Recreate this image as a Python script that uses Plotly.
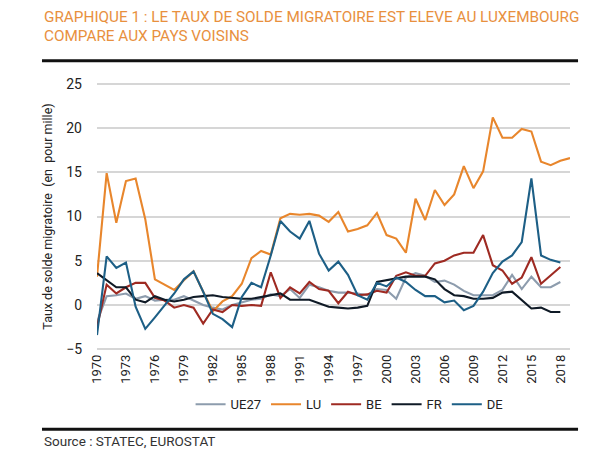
import plotly.graph_objects as go

# Taux de solde migratoire (pour mille)
years = list(range(1970, 2020))

ue27 = [-1.9, 1.0, 1.1, 1.3, 0.7, 1.0, 0.5, 0.6, 0.6, 1.0,
        0.5, 0.0, -0.3, -0.5, 0.0, 0.3, 0.6, 0.7, 1.2, 1.0,
        1.8, 0.8, 2.3, 2.0, 1.6, 1.4, 1.4, 1.3, 1.1, 1.8,
        1.7, 0.7, 3.1, 3.6, 3.3, 2.6, 2.75, 2.3, 1.6, 1.1,
        1.1, 1.1, 1.7, 3.4, 1.8, 3.2, 2.0, 2.0, 2.6]

lu = [3.2, 14.9, 9.3, 14.0, 14.3, 9.7, 2.9, 2.3, 1.7, 2.8,
      3.8, 1.5, -0.7, 0.4, 1.0, 2.4, 5.3, 6.1, 5.7, 9.8,
      10.3, 10.2, 10.3, 10.1, 9.4, 10.5, 8.3, 8.6, 9.0, 10.4,
      7.9, 7.5, 5.9, 12.0, 9.6, 13.0, 11.3, 12.5, 15.7, 13.2,
      15.1, 21.2, 18.9, 18.9, 19.9, 19.6, 16.2, 15.8, 16.3, 16.6]

be = [-2.5, 2.3, 1.3, 2.0, 2.5, 2.5, 0.8, 0.5, -0.3, 0.0,
      -0.3, -2.1, -0.5, -0.8, 0.0, -0.1, 0.0, -0.1, 3.7, 0.8,
      2.0, 1.3, 2.6, 1.8, 1.6, 0.2, 1.5, 1.1, 1.2, 1.6,
      1.4, 3.3, 3.7, 3.3, 3.3, 4.7, 5.0, 5.6, 5.9, 5.9,
      7.9, 4.5, 3.9, 2.4, 3.1, 5.4, 2.4, 3.3, 4.3]

fr = [3.6, 2.8, 2.0, 2.0, 0.6, 0.3, 1.0, 0.6, 0.4, 0.6,
      0.9, 1.0, 1.1, 0.9, 0.8, 0.7, 0.7, 0.9, 1.1, 1.3,
      0.6, 0.6, 0.6, 0.2, -0.2, -0.3, -0.4, -0.3, -0.1, 2.6,
      2.8, 3.0, 3.2, 3.2, 3.2, 2.9, 1.8, 1.1, 1.0, 0.7,
      0.7, 0.8, 1.4, 1.5, 0.6, -0.4, -0.3, -0.8, -0.8]

de = [-3.4, 5.5, 4.2, 4.8, -0.2, -2.7, -1.4, -0.1, 1.3, 2.9,
      3.8, 1.5, -1.0, -1.6, -2.5, 0.9, 2.5, 2.0, 5.6, 9.5,
      8.3, 7.5, 9.5, 5.8, 3.9, 4.9, 3.4, 1.1, 0.6, 2.5,
      2.1, 3.1, 2.6, 1.7, 1.0, 1.0, 0.3, 0.5, -0.6, -0.1,
      1.5, 3.6, 4.9, 5.6, 7.1, 14.3, 5.6, 5.1, 4.8]

tick_years = list(range(1970, 2019, 3))

series = [
    ("UE27", ue27, "#8d9cad"),
    ("LU", lu, "#e8862c"),
    ("BE", be, "#9e2a22"),
    ("FR", fr, "#0f1a26"),
    ("DE", de, "#1d5f86"),
]

fig = go.Figure()
for name, vals, color in series:
    fig.add_trace(go.Scatter(
        x=years[:len(vals)],
        y=vals,
        mode="lines",
        name=name,
        line=dict(color=color, width=2.1),
    ))

font_main = "Roboto, Arial"

# the page body has an 8px margin, so the figure is 8px smaller each way
fig.update_layout(
    width=592,
    height=442,
    margin=dict(l=89, r=30, t=74, b=99),
    paper_bgcolor="white",
    plot_bgcolor="white",
    font=dict(family=font_main, color="#222222", size=13),
    showlegend=True,
    legend=dict(
        orientation="h",
        x=0.534, xanchor="center",
        y=-0.198, yanchor="middle",
        font=dict(size=13, color="#222222"),
        itemwidth=30,
        tracegroupgap=0,
    ),
    xaxis=dict(
        range=[1970, 2019],
        tickmode="array",
        tickvals=tick_years,
        ticktext=[str(y) for y in tick_years],
        tickangle=-90,
        showgrid=False,
        zeroline=False,
        showline=False,
        ticks="",
        tickfont=dict(size=13, color="#222222"),
    ),
    yaxis=dict(
        range=[-5.2, 25.2],
        tickmode="array",
        tickvals=[-5, 0, 5, 10, 15, 20, 25],
        showgrid=True,
        gridcolor="#d6d6d6",
        gridwidth=1.5,
        zeroline=False,
        showline=False,
        ticks="",
        ticklabelstandoff=14,
        tickfont=dict(size=14, color="#222222"),
        title=dict(text="Taux de solde migratoire  (en  pour mille)",
                   font=dict(size=12.5, color="#222222"), standoff=10),
    ),
    annotations=[
        dict(text="GRAPHIQUE 1 : LE TAUX DE SOLDE MIGRATOIRE EST ELEVE AU LUXEMBOURG",
             xref="paper", yref="paper", x=-0.1163, y=1.243,
             xanchor="left", yanchor="middle", showarrow=False,
             font=dict(size=15.3, color="#e8903e", family=font_main)),
        dict(text="COMPARE AUX PAYS VOISINS",
             xref="paper", yref="paper", x=-0.1163, y=1.171,
             xanchor="left", yanchor="middle", showarrow=False,
             font=dict(size=15.3, color="#e8903e", family=font_main)),
        dict(text="Source : STATEC, EUROSTAT",
             xref="paper", yref="paper", x=-0.1163, y=-0.336,
             xanchor="left", yanchor="middle", showarrow=False,
             font=dict(size=13.5, color="#333333", family=font_main)),
    ],
    shapes=[
        dict(type="line", xref="paper", yref="paper",
             x0=-0.1163, x1=1.017, y0=1.079, y1=1.079,
             line=dict(color="#111111", width=3)),
        dict(type="line", xref="paper", yref="paper",
             x0=-0.1163, x1=1.017, y0=-0.291, y1=-0.291,
             line=dict(color="#111111", width=3)),
    ],
)

fig.write_html("out.html")
